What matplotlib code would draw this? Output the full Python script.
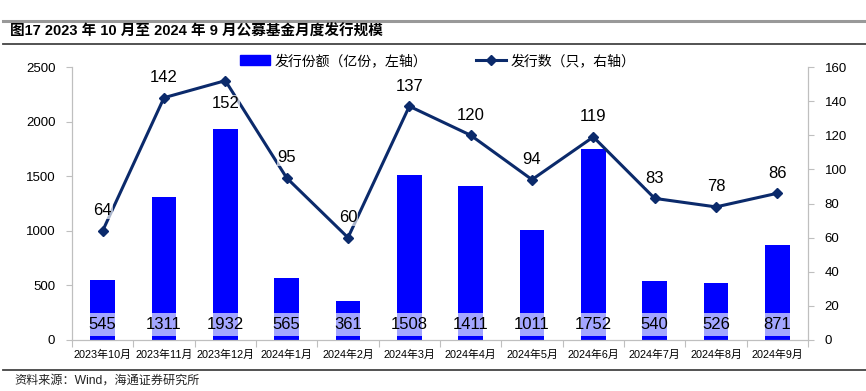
import numpy as np
import matplotlib
matplotlib.use('Agg')
import matplotlib.pyplot as plt
from matplotlib.lines import Line2D
from matplotlib.patches import Rectangle

plt.rcParams['font.family'] = ['Liberation Sans', 'Noto Sans CJK SC', 'DejaVu Sans']

months = ['2023年10月', '2023年11月', '2023年12月', '2024年1月', '2024年2月', '2024年3月',
          '2024年4月', '2024年5月', '2024年6月', '2024年7月', '2024年8月', '2024年9月']
shares = [545, 1311, 1932, 565, 361, 1508, 1411, 1011, 1752, 540, 526, 871]
counts = [64, 142, 152, 95, 60, 137, 120, 94, 119, 83, 78, 86]

BAR = '#0000ff'
BOX = '#a3a6ff'
LINE = '#0b2a6b'
AX_GRAY = '#bfbfbf'

fig = plt.figure(figsize=(8.66, 3.91), dpi=100)
ax = fig.add_axes([72/866, 1-340/391, (808-72)/866, 273/391])
ax2 = ax.twinx()

x = np.arange(len(months))
ax.bar(x, shares, width=0.4, color=BAR, zorder=2)
ax.set_xlim(-0.5, len(months)-0.5)
ax.set_ylim(0, 2500)
ax.set_yticks(range(0, 2501, 500))

# label boxes on bar bottoms
trans = ax.get_xaxis_transform()
for xi, v in zip(x, shares):
    ax.add_patch(Rectangle((xi-0.2, 0.015), 0.4, 0.084, transform=trans,
                           facecolor=BOX, edgecolor='none', zorder=3))
    ax.text(xi, 0.057, str(v), transform=trans, ha='center', va='center',
            fontsize=12, color='black', zorder=4)

ax2.plot(x, counts, color=LINE, lw=2.2, marker='D', ms=5, zorder=5)
ax2.set_ylim(0, 160)
ax2.set_yticks(range(0, 161, 20))
for i, (xi, v) in enumerate(zip(x, counts)):
    below = (i == 2)
    ax2.annotate(str(v), (xi, v), xytext=(0, -11 if below else 9), textcoords='offset points',
                 ha='center', va='top' if below else 'bottom', fontsize=12,
                 bbox=dict(boxstyle='square,pad=0.05', fc='white', ec='none', alpha=0.65),
                 zorder=6)

# axes styling
for a in (ax, ax2):
    a.spines['top'].set_visible(False)
    a.spines['left'].set_color(AX_GRAY)
    a.spines['right'].set_color(AX_GRAY)
    a.spines['bottom'].set_color(AX_GRAY)
    a.tick_params(axis='y', labelsize=9.5, color=AX_GRAY, length=4, width=0.8, pad=8)
ax.set_xticks(np.arange(-0.5, len(months), 1.0))
ax.set_xticklabels([])
ax.tick_params(axis='x', which='major', length=5, color=AX_GRAY, width=0.8)
ax.set_xticks(x, minor=True)
ax.set_xticklabels(months, minor=True, fontsize=7.8)
ax.tick_params(axis='x', which='minor', length=0, pad=7)
ax.set_zorder(1)
ax2.set_zorder(2)
ax.patch.set_visible(False)

handles = [Rectangle((0, 0), 1, 1, color=BAR),
           Line2D([], [], color=LINE, lw=2.2, marker='D', ms=5)]
fig.legend(handles, ['发行份额（亿份，左轴）', '发行数（只，右轴）'], loc='center',
           bbox_to_anchor=(0.505, 1-61/391), ncol=2, frameon=False, fontsize=10,
           handlelength=2.2, handletextpad=0.3, columnspacing=3.5)

# header / footer
fig.add_artist(Line2D([3/866, 1], [1-21/391]*2, color='#999999', lw=2.2))
fig.add_artist(Line2D([3/866, 1], [1-44/391]*2, color='#444444', lw=1.3))
fig.add_artist(Line2D([3/866, 1], [1-370/391]*2, color='#444444', lw=1.3))
fig.text(10/866, 1-32/391, '图17 2023 年 10 月至 2024 年 9 月公募基金月度发行规模',
         fontsize=10.5, fontweight='bold', va='center', ha='left')
fig.text(14/866, 1-381/391, '资料来源：Wind，海通证券研究所', fontsize=8.7, va='center',
         ha='left', color='#222222')

fig.savefig('out.png', dpi=100, facecolor='white')
